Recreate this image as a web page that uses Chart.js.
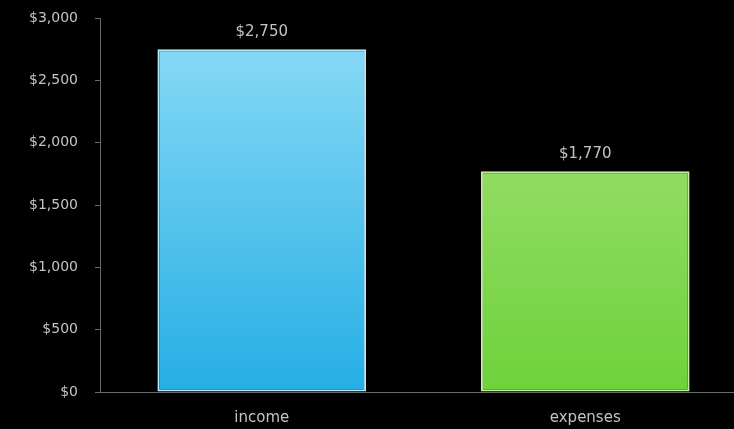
<!DOCTYPE html>
<html>
<head>
<meta charset="utf-8">
<script src="https://cdn.jsdelivr.net/npm/chart.js@4/dist/chart.umd.min.js"></script>
<style>
  html, body { margin: 0; padding: 0; background: #000; overflow: hidden; }
  #wrap { width: 750px; height: 429px; }
</style>
</head>
<body>
<div id="wrap"><canvas id="budgetChart" width="750" height="429"></canvas></div>
<script>
const categories = ["income", "expenses"];
const amounts = [2750, 1770];
const yTicks = [0, 500, 1000, 1500, 2000, 2500, 3000];

const fontFamily = "'DejaVu Sans', sans-serif";
const textColor = "#c4c4c4";
const axisColor = "#6a6a6a";

// top/bottom colours of each bar's gradient
const topColors = ["#8edcf6", "#a9e27e"];
const bottomColors = ["#25aee5", "#6ed23a"];
const edgeColors = ["#b4e9fa", "#c4ee9f"];

const money = (v) => "$" + v.toLocaleString("en-US");

function barGradient(context) {
  const chart = context.chart;
  const area = chart.chartArea;
  if (!area) return bottomColors[context.dataIndex];
  const g = chart.ctx.createLinearGradient(0, area.top, 0, area.bottom);
  g.addColorStop(0, topColors[context.dataIndex]);
  g.addColorStop(1, bottomColors[context.dataIndex]);
  return g;
}

// draws the value above each bar
const valueLabels = {
  id: "valueLabels",
  afterDatasetsDraw(chart) {
    const ctx = chart.ctx;
    const meta = chart.getDatasetMeta(0);
    ctx.save();
    ctx.font = "15px " + fontFamily;
    ctx.fillStyle = textColor;
    ctx.textAlign = "center";
    ctx.textBaseline = "middle";
    meta.data.forEach((bar, i) => {
      ctx.fillText(money(amounts[i]), bar.x, bar.y - 17);
    });
    ctx.restore();
  },
};

new Chart(document.getElementById("budgetChart"), {
  type: "bar",
  data: {
    labels: categories,
    datasets: [
      {
        data: amounts,
        backgroundColor: barGradient,
        borderColor: edgeColors,
        borderWidth: 2,
        borderSkipped: false,
        barPercentage: 0.645,
        categoryPercentage: 1,
      },
    ],
  },
  options: {
    responsive: false,
    animation: false,
    layout: { padding: { top: 18, right: 3, left: 0, bottom: 0 } },
    plugins: { legend: { display: false }, tooltip: { enabled: false } },
    scales: {
      x: {
        grid: { display: false, drawTicks: false },
        border: { display: true, color: axisColor, width: 1 },
        ticks: {
          color: textColor,
          font: { family: fontFamily, size: 15 },
          padding: 17,
        },
        afterFit(scale) {
          scale.height = 37;
        },
      },
      y: {
        min: 0,
        max: 3000,
        afterBuildTicks(scale) {
          scale.ticks = yTicks.map((v) => ({ value: v }));
        },
        grid: {
          drawOnChartArea: false,
          drawTicks: true,
          tickLength: 5,
          color: axisColor,
        },
        border: { display: true, color: axisColor, width: 1 },
        ticks: {
          color: textColor,
          font: { family: fontFamily, size: 14 },
          padding: 17,
          callback: (v) => money(v),
        },
        afterFit(scale) {
          scale.width = 100;
          scale.paddingTop = 0;
          scale.paddingBottom = 0;
        },
      },
    },
  },
  plugins: [valueLabels],
});
</script>
</body>
</html>
